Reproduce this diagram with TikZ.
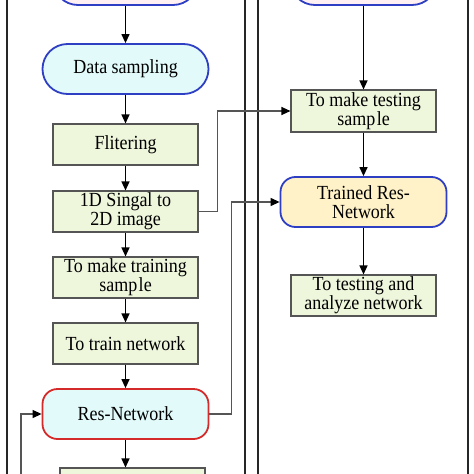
\documentclass[tikz,border=0pt]{standalone}
\usepackage{fontspec}
\setmainfont{Liberation Serif}
\newfontfamily\diagfont[FakeStretch=0.9]{Liberation Serif}
\usetikzlibrary{arrows.meta}
\definecolor{boxgreen}{HTML}{EEF6DC}
\definecolor{boxcyan}{HTML}{E2FAFA}
\definecolor{boxyellow}{HTML}{FFF2C8}
\definecolor{boxpink}{HTML}{FFF0F3}
\definecolor{blueline}{HTML}{2E3FC4}
\definecolor{redline}{HTML}{D42A2A}
\definecolor{grayline}{HTML}{555555}
\tikzset{
  x=1pt, y=-1pt,
  txt/.style={font=\diagfont\fontsize{20}{19}\selectfont, align=center, inner sep=0pt},
  greenbox/.style={txt, draw=grayline, line width=1.1pt, fill=boxgreen, minimum width=145pt, minimum height=41pt},
  pill/.style={txt, draw=blueline, line width=1.8pt, fill=boxcyan, rounded corners=25pt, minimum width=166pt, minimum height=50pt},
  roundbox/.style={txt, line width=1.8pt, rounded corners=15pt, minimum width=166pt, minimum height=50pt},
  flow/.style={line width=1.3pt, -{Triangle[length=9pt,width=8pt]}},
  side/.style={draw=grayline, line width=1.1pt, -{Triangle[length=9pt,width=8pt,fill=black,color=black]}},
  panel/.style={draw=black!85, line width=1.4pt}
}
\begin{document}
\begin{tikzpicture}
\useasboundingbox (0,0) rectangle (474,474);
\clip (0,0) rectangle (474,474);
% panels
\draw[panel] (7,-20) rectangle (245,500);
\draw[panel] (258,-20) rectangle (468,500);
% left column
\node[pill, fill=boxpink, minimum width=145pt] (topL) at (125.5,-20) {};
\node[pill] (ds) at (125.5,69) {Data sampling};
\node[greenbox] (fl) at (125.5,144.5) {Flitering};
\node[greenbox] (sig) at (125.5,211.5) {1D Singal to\\2D image};
\node[greenbox] (tms) at (125.5,277.5) {To make training\\samp\kern1.5pt le};
\node[greenbox] (tn) at (125.5,343.5) {To train network};
\node[roundbox, draw=redline, fill=boxcyan] (res) at (125.5,414) {Res-Network};
\node[greenbox] (bot) at (132.5,488.5) {};
% right column
\node[pill, fill=boxpink, minimum width=147pt] (topR) at (363.5,-20) {};
\node[greenbox, minimum height=42pt] (test) at (363.5,111) {To make testing\\samp\kern1.5pt le};
\node[roundbox, draw=blueline, fill=boxyellow] (trained) at (363.5,202) {Trained Res-\\Network};
\node[greenbox] (ana) at (363.5,295.5) {To testing and\\analyze network};
% vertical flow
\draw[flow] (topL) -- (ds);
\draw[flow] (ds) -- (fl);
\draw[flow] (fl) -- (sig);
\draw[flow] (sig) -- (tms);
\draw[flow] (tms) -- (tn);
\draw[flow] (tn) -- (res);
\draw[flow] (res) -- (res.south |- bot.north);
\draw[flow] (topR) -- (test);
\draw[flow] (test) -- (trained);
\draw[flow] (trained) -- (ana);
% side connectors
\draw[side] (sig.east) -- ++(19,0) |- (test.west);
\draw[side] (res.east) -- ++(22,0) |- (trained.west);
\coordinate (loopS) at (21,490);
\draw[side] (loopS) |- (res.west);
\end{tikzpicture}
\end{document}
